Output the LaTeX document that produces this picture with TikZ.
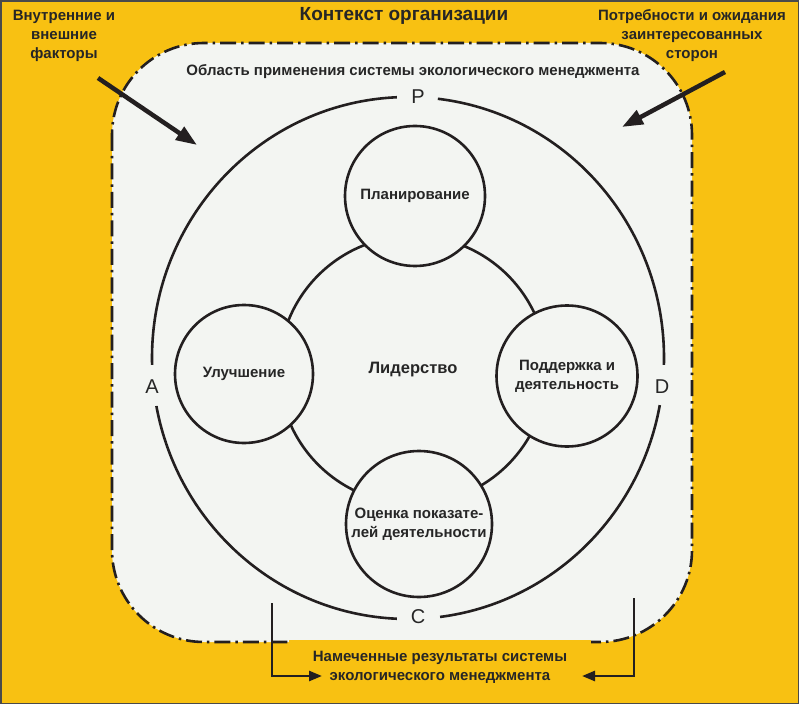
\documentclass[tikz,border=0pt]{standalone}
\usepackage{fontspec}
\setmainfont{Liberation Sans}
\usetikzlibrary{arrows.meta}
\definecolor{ylw}{HTML}{F8C112}
\definecolor{pale}{HTML}{F3F5F2}
\definecolor{ink}{HTML}{231F20}
\definecolor{txtc}{HTML}{262626}
\definecolor{framec}{HTML}{4A4A4A}
\begin{document}
\begin{tikzpicture}[x=1pt,y=-1pt,
  txt/.style={font=\fontsize{15}{19}\selectfont\bfseries, text=txtc, align=center, inner sep=0pt},
  titletxt/.style={font=\fontsize{19}{22}\selectfont\bfseries, text=txtc, inner sep=0pt},
  letter/.style={font=\fontsize{20}{20}\selectfont, text=txtc, inner sep=0pt},
  stage/.style={circle, draw=ink, line width=2.6pt, fill=pale, txt},
  ring/.style={draw=ink, line width=2.6pt},
  bigarrow/.style={draw=ink, line width=4.5pt, -{Triangle[length=21pt,width=15pt]}},
  outarrow/.style={draw=ink, line width=2.6pt, -{Triangle[length=13pt,width=10pt]}},
  scopeedge/.style={draw=ink, line width=2.6pt, dash pattern=on 16pt off 5pt on 2.5pt off 5pt},
]
\useasboundingbox (0,0) rectangle (802,708);
\fill[white] (0,0) rectangle (802,708);
\fill[ylw] (1,1) rectangle (798.5,703.5);
\draw[framec, line width=1.5pt] (1,1) rectangle (798.5,703.5);

% scope area
\fill[pale, rounded corners=92pt] (112,43) rectangle (692,642);
\draw[scopeedge, rounded corners=92pt] (112,43) rectangle (692,642);
\fill[ylw] (289,640) rectangle (591,646);

% texts in the context band
\node[titletxt] (title) at (404,16) {Контекст организации};
\node[txt] (inner) at (64,36) {Внутренние и\\внешние\\факторы};
\node[txt] (needs) at (692,36) {Потребности и ожидания\\заинтересованных\\сторон};
\node[txt] (scope) at (413,72) {Область применения системы экологического менеджмента};

% PDCA ring
\draw[ring] (408,358) ++(83.3:256pt and 261pt) arc[start angle=83.3, end angle=-1.5, x radius=256pt, y radius=261pt];
\draw[ring] (408,358) ++(92.5:256pt and 261pt) arc[start angle=92.5, end angle=181.5, x radius=256pt, y radius=261pt];
\draw[ring] (408,358) ++(190.6:256pt and 261pt) arc[start angle=190.6, end angle=267.5, x radius=256pt, y radius=261pt];
\draw[ring] (408,358) ++(277.2:256pt and 261pt) arc[start angle=277.2, end angle=349.6, x radius=256pt, y radius=261pt];
\node[letter] (P) at (418,97) {P};
\node[letter] (C) at (418,617) {C};
\node[letter] (A) at (152,387) {A};
\node[letter] (D) at (662,387) {D};

% leadership and stages
\node[stage, minimum size=268pt, font=\fontsize{16.5}{19}\selectfont\bfseries] (lead) at (413,370) {Лидерство};
\node[stage, minimum size=140pt] (plan) at (415,196) {Планирование};
\node[stage, minimum size=138pt] (impr) at (244,374) {Улучшение};
\node[stage, minimum size=141pt] (supp) at (567,376) {Поддержка и\\деятельность};
\node[stage, minimum size=146pt] (eval) at (419,524) {Оценка показате-\\лей деятельности};

% input arrows
\coordinate (tls) at (98,78);
\coordinate (tlt) at (197,145);
\coordinate (trs) at (725,72);
\coordinate (trt) at (622,127);
\draw[bigarrow] (tls) -- (tlt);
\draw[bigarrow] (trs) -- (trt);

% outcomes
\node[txt] (res) at (440,667) {Намеченные результаты системы\\экологического менеджмента};
\coordinate (bls) at (272,603);
\coordinate (blt) at (322,676);
\coordinate (brs) at (634,598);
\coordinate (brt) at (582,676);
\draw[outarrow] (bls) |- (blt);
\draw[outarrow] (brs) |- (brt);
\end{tikzpicture}
\end{document}
